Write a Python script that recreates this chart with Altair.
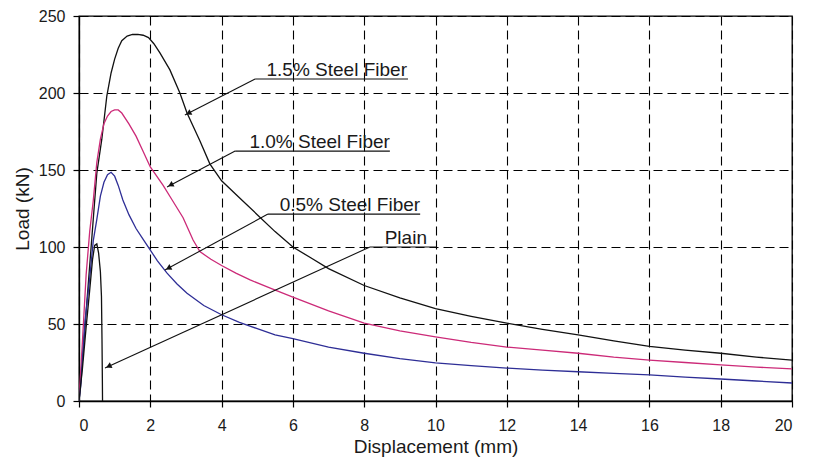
import math
import altair as alt
import pandas as pd

# ---------------- data ----------------
fiber15_x = [0, 0.1, 0.2, 0.3, 0.4, 0.5, 0.64, 0.78, 0.9, 1.0, 1.1, 1.2, 1.35, 1.5, 1.65, 1.8, 1.95,
             2.1, 2.27, 2.55, 2.83, 3.03, 3.39, 3.67, 4.0, 4.5, 5.0, 5.5, 6.0, 6.5, 7.0, 8.0,
             9.0, 10.0, 11.0, 12.0, 13.0, 14.0, 15.0, 16.0, 17.0, 18.0, 19.0, 20.0]
fiber15_y = [0, 28, 58, 88, 118, 148, 170, 198, 213, 222, 229, 234, 237, 238, 238, 237.5, 236,
             232, 226, 215, 200, 187, 169, 154, 143, 132, 121, 110, 100, 93, 86, 75,
             67, 60, 55, 50.5, 46.5, 43, 39, 35.5, 33, 31, 28.5, 26.5]

fiber10_x = [0, 0.1, 0.2, 0.3, 0.4, 0.5, 0.6, 0.7, 0.8, 0.9, 1.0, 1.1, 1.2, 1.4, 1.6, 1.8, 2.0,
             2.36, 2.6, 2.92, 3.2, 3.39, 3.7, 4.0, 4.4, 4.8, 5.4, 6.0, 7.0, 8.0, 9.0, 10.0, 11.0,
             12.0, 13.0, 14.0, 15.0, 16.0, 17.0, 18.0, 19.0, 20.0]
fiber10_y = [0, 40, 82, 110, 130, 155, 170, 180, 185, 188, 189, 189, 187, 180, 172, 162, 152,
             140, 131, 119, 104.5, 97, 92, 88, 83, 78.6, 73, 67.5, 58.5, 50.6, 45.5, 41.6, 38,
             35, 33, 31, 28.5, 26.6, 25, 23.4, 22, 20.8]

fiber05_x = [0, 0.05, 0.17, 0.3, 0.4, 0.5, 0.6, 0.7, 0.8, 0.9, 1.0, 1.1, 1.23, 1.4, 1.6, 1.8,
             2.0, 2.2, 2.47, 2.75, 3.03, 3.5, 4.0, 4.5, 5.0, 5.5, 6.0, 7.0, 8.0, 9.0, 10.0, 11.0,
             12.0, 13.0, 14.0, 15.0, 16.0, 17.0, 18.0, 19.0, 20.0]
fiber05_y = [0, 10, 52, 80, 104, 118, 133, 142, 147, 148.5, 146, 140, 130.5, 121, 112, 105,
             98, 91, 83, 76, 70, 62, 56, 51, 47, 43, 40.5, 35, 31, 27.5, 24.7, 23,
             21.4, 20, 19, 18, 16.9, 15.5, 14.3, 13, 11.7]

plain_x = [0, 0.1, 0.2, 0.3, 0.38, 0.44, 0.5, 0.55, 0.6, 0.63, 0.645, 0.655, 0.66]
plain_y = [0, 22, 48, 72, 92, 101, 102, 96, 84, 68, 40, 15, 0]

series_names = ["1.5% Steel Fiber", "1.0% Steel Fiber", "0.5% Steel Fiber", "Plain"]
series_colors = ["#111111", "#cc2a78", "#2e2e96", "#111111"]

# annotation labels: underline start/end, underline level, arrow tip, text right edge
ann_labels = ["1.5% Steel Fiber", "1.0% Steel Fiber", "0.5% Steel Fiber", "Plain"]
ann_line_x0 = [4.94, 4.38, 5.30, 8.16]
ann_line_x1 = [9.23, 8.72, 9.57, 10.04]
ann_line_y = [209.1, 162.3, 121.4, 100.0]
ann_tip_x = [2.97, 2.47, 2.41, 0.73]
ann_tip_y = [185.7, 139.0, 85.0, 21.4]
ann_text_x = [9.20, 8.72, 9.57, 9.76]

x_ticks = list(range(0, 21, 2))
y_ticks = list(range(0, 251, 50))

# ---------------- build tables ----------------
rows = []
for name, xs, ys in zip(series_names,
                        [fiber15_x, fiber10_x, fiber05_x, plain_x],
                        [fiber15_y, fiber10_y, fiber05_y, plain_y]):
    for i, (a, b) in enumerate(zip(xs, ys)):
        rows.append({"series": name, "x": a, "y": b, "o": i})
df = pd.DataFrame(rows)

W, H = 713, 385
sx, sy = W / 20.0, H / 250.0

ann = []
for lab, x0, x1, yl, tx, ty, txx in zip(ann_labels, ann_line_x0, ann_line_x1, ann_line_y,
                                         ann_tip_x, ann_tip_y, ann_text_x):
    dx = (tx - x0) * sx
    dy = -(ty - yl) * sy
    L = math.hypot(dx, dy)
    ang = math.degrees(math.atan2(dx, -dy)) % 360
    back = 4.0
    hx = tx - (dx / L) * back / sx
    hy = ty + (dy / L) * back / sy
    ann.append({"label": lab, "x0": x0, "x1": x1, "yl": yl, "tx": tx, "ty": ty,
                "hx": hx, "hy": hy, "ang": ang, "txx": txx})
adf = pd.DataFrame(ann)

FONT = "Liberation Sans"

xscale = alt.Scale(domain=[0, 20], nice=False, zero=False)
yscale = alt.Scale(domain=[0, 250], nice=False)

lines = alt.Chart(df).mark_line(strokeWidth=1.3, clip=True).encode(
    x=alt.X("x:Q", scale=xscale,
            axis=alt.Axis(title="Displacement (mm)", values=x_ticks, format="d")),
    y=alt.Y("y:Q", scale=yscale,
            axis=alt.Axis(title="Load (kN)", values=y_ticks, format="d")),
    color=alt.Color("series:N", scale=alt.Scale(domain=series_names, range=series_colors),
                    legend=None),
    detail="series:N",
    order="o:Q",
)

base = alt.Chart(adf)
underline = base.mark_rule(color="#111111", strokeWidth=1.2).encode(
    x="x0:Q", x2="x1:Q", y="yl:Q"
)
leader = base.mark_rule(color="#111111", strokeWidth=1.1).encode(
    x="x0:Q", y="yl:Q", x2="tx:Q", y2="ty:Q"
)
heads = base.mark_point(shape="triangle-up", filled=True, color="#111111", size=40,
                        opacity=1).encode(
    x="hx:Q", y="hy:Q", angle=alt.Angle("ang:Q", scale=None)
)
texts = base.mark_text(align="right", baseline="alphabetic", dy=-3, font=FONT,
                       fontSize=19, color="#1a1a1a").encode(
    x="txx:Q", y="yl:Q", text="label:N"
)

chart = alt.layer(lines, underline, leader, heads, texts).properties(
    width=W, height=H,
    autosize=alt.AutoSizeParams(type="none"),
    padding={"left": 71, "top": 8, "right": 14, "bottom": 59},
).configure_view(
    stroke="#000000", strokeWidth=1.3
).configure_axis(
    labelFont=FONT, titleFont=FONT, labelFontSize=16, titleFontSize=19,
    labelColor="#1a1a1a", titleColor="#1a1a1a", titleFontWeight="normal",
    domainColor="#000000", domainWidth=1.3, tickColor="#000000", tickSize=6, tickWidth=1.2,
    gridColor="#000000", gridDash=[9, 5], gridWidth=1.1, gridOpacity=1,
    labelPadding=8, titlePadding=6,
).configure_axisX(
    labelPadding=10, titlePadding=4
)

chart.save("out.html", embed_options={"renderer": "svg", "actions": False})
